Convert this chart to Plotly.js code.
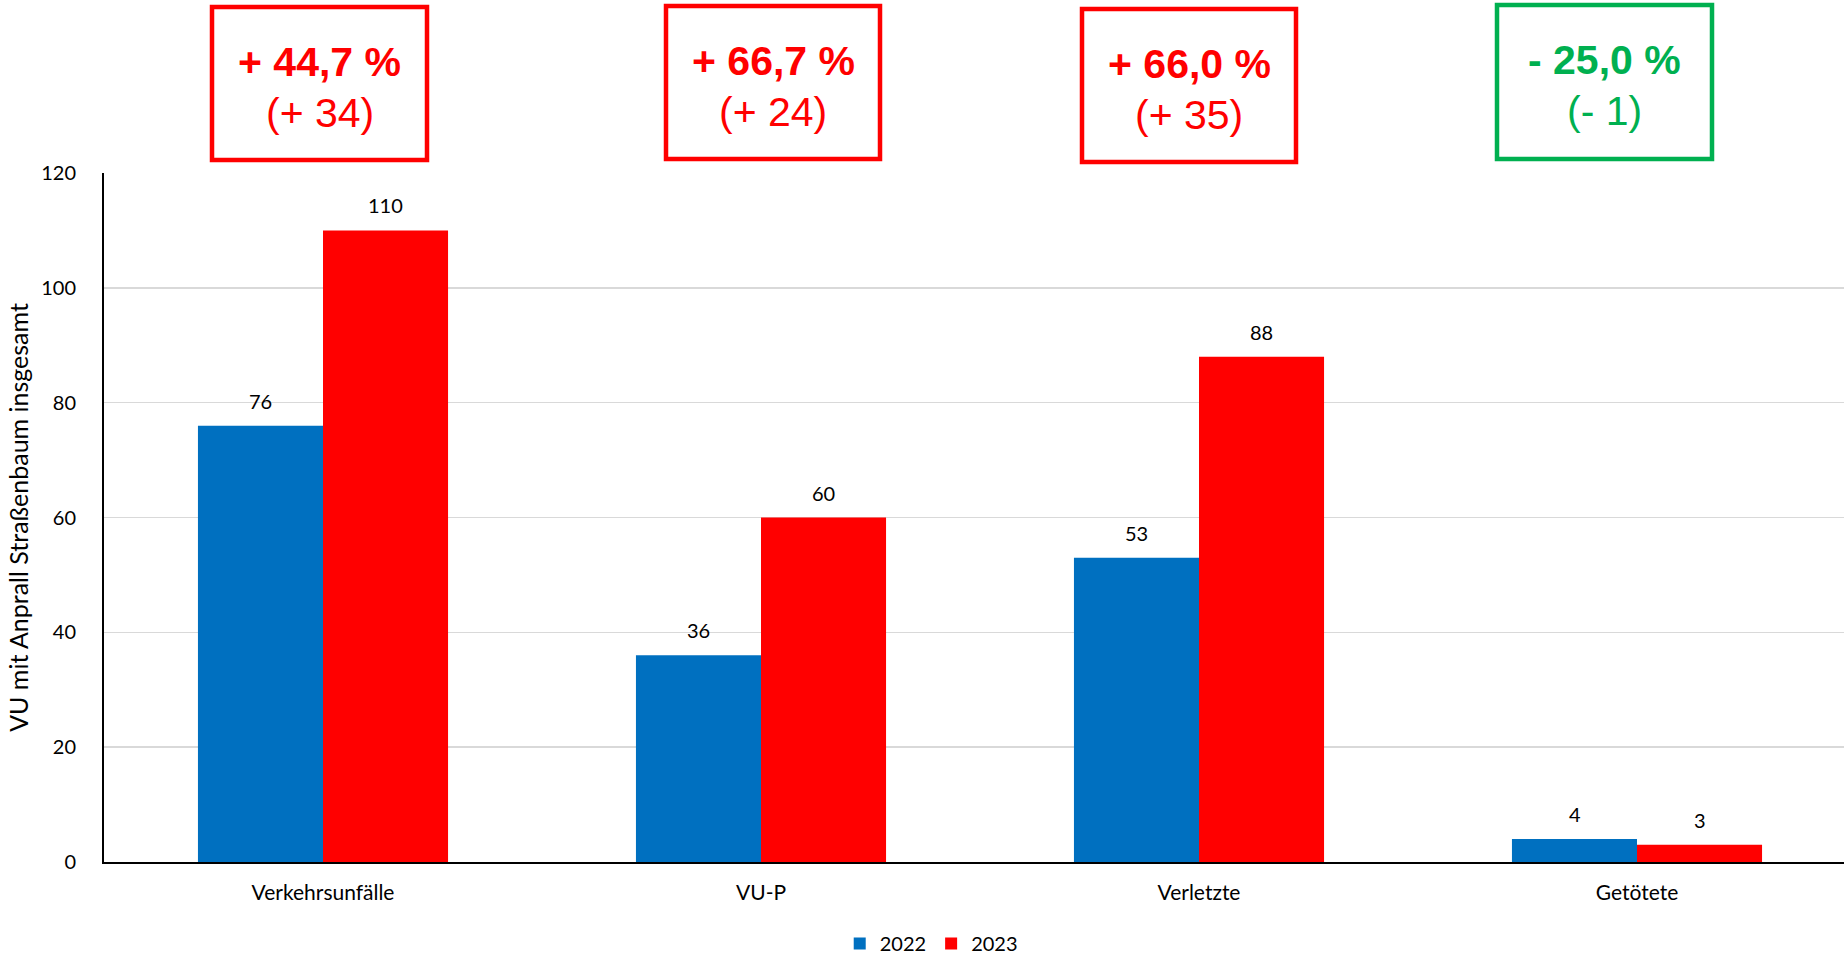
<!DOCTYPE html>
<html>
<head>
<meta charset="utf-8">
<script src="https://cdn.plot.ly/plotly-3.0.1.min.js"></script>
<style>html,body{margin:0;padding:0;background:#fff;}#chart{width:1844px;height:955px;}</style>
</head>
<body>
<div id="chart"></div>
<script>
const categories = ["Verkehrsunfälle", "VU-P", "Verletzte", "Getötete"];
const values2022 = [76, 36, 53, 4];
const values2023 = [110, 60, 88, 3];
const seriesNames = ["2022", "2023"];
const changePct = ["+ 44,7 %", "+ 66,7 %", "+ 66,0 %", "- 25,0 %"];
const changeAbs = ["(+ 34)", "(+ 24)", "(+ 35)", "(- 1)"];
const changeUp = [true, true, true, false];
const yTitle = "VU mit Anprall Straßenbaum insgesamt";

const W = 1844, H = 955;
const L = 104, R = 0, T = 173, B = 93;
const plotW = W - L - R, plotH = H - T - B;
const px2x = p => (p - L) / plotW;
const py2y = p => (H - B - p) / plotH;

const BLUE = "#0070C0", RED = "#FF0000", GREEN = "#00B050";
const FONT = "Lato, 'Open Sans', sans-serif";

const traces = [
  {type: "bar", name: seriesNames[0], x: categories, y: values2022, marker: {color: BLUE}, hoverinfo: "none"},
  {type: "bar", name: seriesNames[1], x: categories, y: values2023, marker: {color: RED}, hoverinfo: "none"}
];

// callout box placement (pixels)
const boxes = [
  {x0: 212, x1: 427, y0: 7, y1: 160},
  {x0: 666, x1: 880, y0: 6, y1: 159},
  {x0: 1082, x1: 1296, y0: 9, y1: 162},
  {x0: 1497, x1: 1712, y0: 5, y1: 159}
];

const shapes = [];
const annotations = [];
boxes.forEach((b, i) => {
  const col = changeUp[i] ? RED : GREEN;
  shapes.push({type: "rect", xref: "paper", yref: "paper",
    x0: px2x(b.x0), x1: px2x(b.x1), y0: py2y(b.y1), y1: py2y(b.y0),
    line: {color: col, width: 4.5}, fillcolor: "rgba(0,0,0,0)"});
  const cx = px2x((b.x0 + b.x1) / 2);
  annotations.push({xref: "paper", yref: "paper", x: cx, y: py2y(b.y0 + 55),
    text: "<b>" + changePct[i] + "</b>", showarrow: false, xanchor: "center", yanchor: "middle",
    font: {family: "'Liberation Sans', Arial, sans-serif", size: 41, color: col}});
  annotations.push({xref: "paper", yref: "paper", x: cx, y: py2y(b.y0 + 106),
    text: changeAbs[i], showarrow: false, xanchor: "center", yanchor: "middle",
    font: {family: "'Liberation Sans', Arial, sans-serif", size: 41, color: col}});
});

// value labels above bars
const halfBar = 62.5;
[values2022, values2023].forEach((vals, s) => {
  vals.forEach((v, i) => {
    annotations.push({xref: "x", yref: "y", x: categories[i], y: v, text: String(v),
      showarrow: false, xanchor: "center", yanchor: "middle",
      xshift: s === 0 ? -halfBar : halfBar, yshift: 25,
      font: {family: FONT, size: 20, color: "#000"}});
  });
});

const layout = {
  width: W, height: H,
  margin: {l: L, r: R, t: T, b: B, pad: 0},
  paper_bgcolor: "#fff", plot_bgcolor: "#fff",
  barmode: "group", bargap: 0.429, bargroupgap: 0,
  showlegend: true,
  legend: {orientation: "h", xref: "container", yref: "container", x: 0.505, y: 0.012,
    xanchor: "center", yanchor: "middle", font: {family: FONT, size: 20, color: "#000"},
    itemwidth: 30, tracegroupgap: 0},
  xaxis: {type: "category", range: [-0.5, -0.5 + plotW / 438], showgrid: false,
    showline: true, linecolor: "#000", linewidth: 2, ticks: "", ticklabelstandoff: 11,
    tickfont: {family: FONT, size: 21, color: "#000"}, fixedrange: true, zeroline: false},
  yaxis: {range: [0, 120], dtick: 20, showgrid: true, gridcolor: "#D9D9D9", gridwidth: 1.5,
    showline: true, linecolor: "#000", linewidth: 2, ticks: "", ticklabelstandoff: 22,
    zeroline: false,
    tickfont: {family: FONT, size: 20, color: "#000"},
    title: {text: yTitle, font: {family: FONT, size: 25, color: "#000"}, standoff: 5},
    automargin: false, fixedrange: true},
  shapes: shapes,
  annotations: annotations,
  font: {family: FONT}
};

Plotly.newPlot("chart", traces, layout, {displayModeBar: false, staticPlot: true});
</script>
</body>
</html>
